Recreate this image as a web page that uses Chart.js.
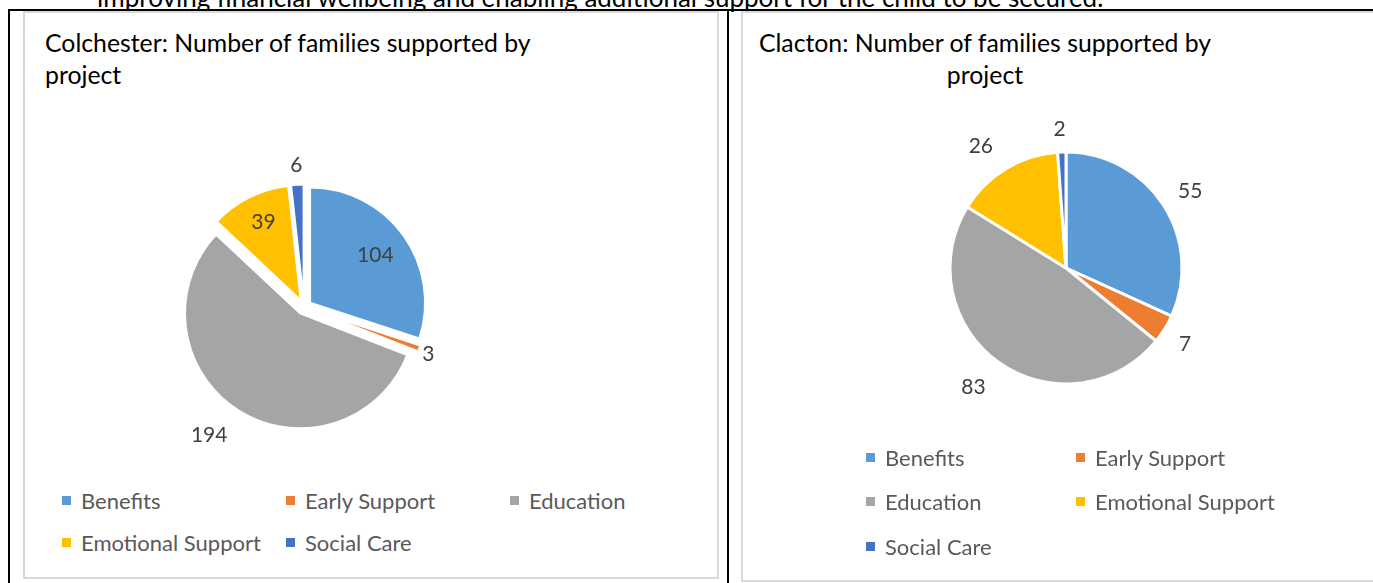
<!DOCTYPE html>
<html>
<head>
<meta charset="utf-8">
<script src="https://cdn.jsdelivr.net/npm/chart.js@4.4.1/dist/chart.umd.min.js"></script>
<style>
  html, body { margin: 0; padding: 0; background: #fff; }
  body { width: 1373px; height: 583px; position: relative; overflow: hidden; font-family: Lato, "Open Sans", sans-serif; }
  .lead { position: absolute; left: 97px; top: -16px; font-size: 26px; line-height: 26px; color: #000; white-space: nowrap; }
  .rule { position: absolute; background: #000; }
  .panel { position: absolute; border: 2px solid #d9d9d9; box-sizing: border-box; background: #fff; }
  .title { position: absolute; font-size: 24.8px; line-height: 32px; color: #000; white-space: nowrap; }
  .legend { position: absolute; display: grid; align-items: center; font-size: 22px; color: #595959; }
  .legend .item { display: flex; align-items: center; white-space: nowrap; }
  .legend .swatch { width: 9px; height: 9px; margin-right: 10px; flex: none; }
  canvas { position: absolute; }
</style>
</head>
<body>
<div class="lead">improving financial wellbeing and enabling additional support for the child to be secured.</div>

<div class="panel" style="left:23px; top:11px; width:696px; height:568px;"></div>
<div class="panel" style="left:741px; top:11px; width:700px; height:571px;"></div>

<div class="rule" style="left:8px; top:9px; width:1365px; height:2px;"></div>
<div class="rule" style="left:8px; top:9px; width:2px; height:574px;"></div>
<div class="rule" style="left:727px; top:9px; width:2px; height:574px;"></div>

<div class="title" style="left:45px; top:27px;">Colchester: Number of families supported by<br>project</div>
<div class="title" style="left:685px; top:27px; width:600px; text-align:center;">Clacton: Number of families supported by<br>project</div>

<canvas id="colchesterChart" width="320" height="320" style="left:144px; top:147px;"></canvas>
<canvas id="clactonChart" width="340" height="340" style="left:896px; top:98px;"></canvas>

<div class="legend" id="colchesterLegend" style="left:62px; top:479px; grid-template-columns: repeat(3, 224px); grid-auto-rows: 42px;"></div>
<div class="legend" id="clactonLegend" style="left:866px; top:435px; grid-template-columns: repeat(2, 210px); grid-auto-rows: 44.5px;"></div>

<script>
const categories = ['Benefits', 'Early Support', 'Education', 'Emotional Support', 'Social Care'];
const colchesterFamilies = [104, 3, 194, 39, 6];
const clactonFamilies = [55, 7, 83, 26, 2];
const sliceColours = ['#5B9BD5', '#ED7D31', '#A5A5A5', '#FFC000', '#4472C4'];

// where each value label sits: distance as a fraction of the radius, and a small turn in degrees
const colchesterLabelDist = [0.70, 1.09, 1.32, 0.75, 1.17];
const colchesterLabelTurn = [0, 1, 4.5, 1, 0];
const clactonLabelDist = [1.26, 1.22, 1.30, 1.28, 1.20];
const clactonLabelTurn = [1, 1, 2.5, -3.8, -0.6];

// pull every slice out from the centre along its own bisector
const explodeSlices = {
    id: 'explodeSlices',
    afterDatasetsUpdate(chart, args, opts) {
        const d = opts.distance || 0;
        if (!d) return;
        chart.getDatasetMeta(0).data.forEach(arc => {
            const mid = (arc.startAngle + arc.endAngle) / 2;
            arc.x += Math.cos(mid) * d;
            arc.y += Math.sin(mid) * d;
        });
    }
};

// value labels drawn next to or inside each slice
const sliceLabels = {
    id: 'sliceLabels',
    afterDatasetsDraw(chart, args, opts) {
        const ctx = chart.ctx;
        const values = chart.data.datasets[0].data;
        ctx.save();
        ctx.font = opts.font;
        ctx.fillStyle = opts.color;
        ctx.textAlign = 'center';
        ctx.textBaseline = 'middle';
        chart.getDatasetMeta(0).data.forEach((arc, i) => {
            const mid = (arc.startAngle + arc.endAngle) / 2 + (opts.turn[i] || 0) * Math.PI / 180;
            const r = arc.outerRadius * opts.dist[i];
            ctx.fillText(String(values[i]), arc.x + Math.cos(mid) * r, arc.y + Math.sin(mid) * r);
        });
        ctx.restore();
    }
};

function makePie(canvasId, values, radius, explode, border, labelDist, labelTurn) {
    return new Chart(document.getElementById(canvasId), {
        type: 'pie',
        data: {
            labels: categories,
            datasets: [{
                data: values,
                backgroundColor: sliceColours,
                borderColor: '#ffffff',
                borderWidth: border
            }]
        },
        options: {
            responsive: false,
            animation: false,
            events: [],
            radius: radius,
            layout: { padding: 0 },
            plugins: {
                legend: { display: false },
                title: { display: false },
                tooltip: { enabled: false },
                explodeSlices: { distance: explode },
                sliceLabels: {
                    font: '21px Lato, "Open Sans", sans-serif',
                    color: '#404040',
                    dist: labelDist,
                    turn: labelTurn
                }
            }
        },
        plugins: [explodeSlices, sliceLabels]
    });
}

function buildLegend(containerId) {
    const box = document.getElementById(containerId);
    categories.forEach((name, i) => {
        const item = document.createElement('div');
        item.className = 'item';
        const swatch = document.createElement('span');
        swatch.className = 'swatch';
        swatch.style.background = sliceColours[i];
        const text = document.createElement('span');
        text.textContent = name;
        item.appendChild(swatch);
        item.appendChild(text);
        box.appendChild(item);
    });
}

makePie('colchesterChart', colchesterFamilies, 115, 7.5, 2, colchesterLabelDist, colchesterLabelTurn);
makePie('clactonChart', clactonFamilies, 116, 0, 3, clactonLabelDist, clactonLabelTurn);
buildLegend('colchesterLegend');
buildLegend('clactonLegend');
</script>
</body>
</html>
